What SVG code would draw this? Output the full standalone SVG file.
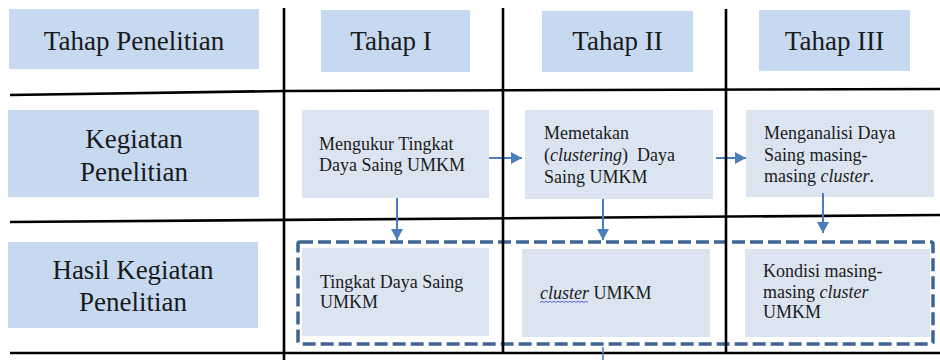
<svg xmlns="http://www.w3.org/2000/svg" width="940" height="360" viewBox="0 0 940 360">
<defs>
  <marker id="ah" viewBox="0 0 11 12" refX="11" refY="6" markerWidth="11" markerHeight="12" markerUnits="userSpaceOnUse" orient="auto">
    <path d="M0,0 L11,6 L0,12 Z" fill="#4a7ebb"/>
  </marker>
</defs>
<rect width="940" height="360" fill="#fff"/>

<g font-family="Liberation Serif" fill="#1a1a1a">
<g id="header-tahap-penelitian">
  <rect fill="#c6d9f1" x="9" y="9" width="250" height="60"/>
  <text font-family="Liberation Serif" font-size="27" x="134" y="50" text-anchor="middle">Tahap Penelitian</text>
</g>
<g id="header-tahap-1">
  <rect fill="#c6d9f1" x="321" y="10" width="149" height="62"/>
  <text font-family="Liberation Serif" font-size="27" x="391" y="50" text-anchor="middle">Tahap I</text>
</g>
<g id="header-tahap-2">
  <rect fill="#c6d9f1" x="542" y="11" width="151" height="61"/>
  <text font-family="Liberation Serif" font-size="27" x="617.5" y="50" text-anchor="middle">Tahap II</text>
</g>
<g id="header-tahap-3">
  <rect fill="#c6d9f1" x="759" y="10" width="151" height="61"/>
  <text font-family="Liberation Serif" font-size="27" x="834.5" y="50" text-anchor="middle">Tahap III</text>
</g>

<g id="row-kegiatan">
  <rect fill="#c6d9f1" x="8" y="110" width="251" height="87"/>
  <text font-family="Liberation Serif" font-size="27" text-anchor="middle"><tspan x="134" y="148">Kegiatan</tspan><tspan x="134" y="181">Penelitian</tspan></text>
</g>
<g id="row-hasil">
  <rect fill="#c6d9f1" x="8" y="242" width="250" height="86"/>
  <text font-family="Liberation Serif" font-size="27" text-anchor="middle"><tspan x="133" y="279">Hasil Kegiatan</tspan><tspan x="133" y="311">Penelitian</tspan></text>
</g>

<g id="grid" stroke="#000" stroke-width="2.6" fill="none">
  <polyline points="10,95 284,91 940,89"/>
  <line x1="10" y1="222" x2="940" y2="215"/>
  <line x1="10" y1="353" x2="940" y2="353"/>
</g>

<g id="kegiatan-1">
  <rect fill="#dbe5f1" x="302" y="110" width="187" height="88"/>
  <text font-family="Liberation Serif" font-size="18"><tspan x="319" y="150">Mengukur Tingkat</tspan><tspan x="319" y="171">Daya Saing UMKM</tspan></text>
</g>
<g id="kegiatan-2">
  <rect fill="#dbe5f1" x="525" y="110" width="188" height="89"/>
  <text font-family="Liberation Serif" font-size="18"><tspan x="544" y="139">Memetakan</tspan><tspan x="544" y="161">(<tspan font-style="italic">clustering</tspan>)<tspan dx="9">Daya</tspan></tspan><tspan x="544" y="183">Saing UMKM</tspan></text>
</g>
<g id="kegiatan-3">
  <rect fill="#dbe5f1" x="746" y="110" width="188" height="87"/>
  <text font-family="Liberation Serif" font-size="18"><tspan x="764" y="139">Menganalisi Daya</tspan><tspan x="764" y="161">Saing masing-</tspan><tspan x="764" y="182">masing <tspan font-style="italic">cluster</tspan>.</tspan></text>
</g>

<g id="hasil-1">
  <rect fill="#dbe5f1" x="302" y="248" width="187" height="88"/>
  <text font-family="Liberation Serif" font-size="18"><tspan x="320" y="288">Tingkat Daya Saing</tspan><tspan x="320" y="308">UMKM</tspan></text>
</g>
<g id="hasil-2">
  <rect fill="#dbe5f1" x="522" y="249" width="188" height="88"/>
  <text font-family="Liberation Serif" font-size="18" x="540" y="299"><tspan font-style="italic">cluster</tspan> UMKM</text>
  <path d="M540,302.5 l2,-1.3 l2,1.3 l2,-1.3 l2,1.3 l2,-1.3 l2,1.3 l2,-1.3 l2,1.3 l2,-1.3 l2,1.3 l2,-1.3 l2,1.3 l2,-1.3 l2,1.3 l2,-1.3 l2,1.3 l2,-1.3 l2,1.3 l2,-1.3 l2,1.3 l2,-1.3 l2,1.3 l2,-1.3 l2,1.3" stroke="#3f48cc" stroke-width="0.8" fill="none"/>
</g>
<g id="hasil-3">
  <rect fill="#dbe5f1" x="745" y="249" width="185" height="88"/>
  <text font-family="Liberation Serif" font-size="18"><tspan x="763" y="277">Kondisi masing-</tspan><tspan x="763" y="298">masing <tspan font-style="italic">cluster</tspan></tspan><tspan x="763" y="318">UMKM</tspan></text>
</g>
</g>

<g id="connectors" stroke="#4a7ebb" stroke-width="2" fill="none">
  <line x1="489" y1="158" x2="522" y2="158" marker-end="url(#ah)"/>
  <line x1="716" y1="158" x2="746" y2="158" marker-end="url(#ah)"/>
  <line x1="397" y1="198" x2="397" y2="240" marker-end="url(#ah)"/>
  <line x1="603" y1="199" x2="603" y2="240" marker-end="url(#ah)"/>
  <line x1="823" y1="193" x2="823" y2="233" marker-end="url(#ah)"/>
  <line x1="603" y1="347" x2="603" y2="360" stroke-width="1.5"/>
</g>

<g id="hasil-group">
  <rect x="298" y="242" width="635" height="102" rx="2" stroke="#3d6595" stroke-width="3.5" fill="none" stroke-dasharray="13 5"/>
</g>

<g id="grid-vertical" stroke="#000" stroke-width="2.6" fill="none">
  <line x1="284" y1="8" x2="284" y2="360"/>
  <line x1="503" y1="8" x2="503" y2="353"/>
  <line x1="726" y1="9" x2="726" y2="353"/>
</g>
</svg>
